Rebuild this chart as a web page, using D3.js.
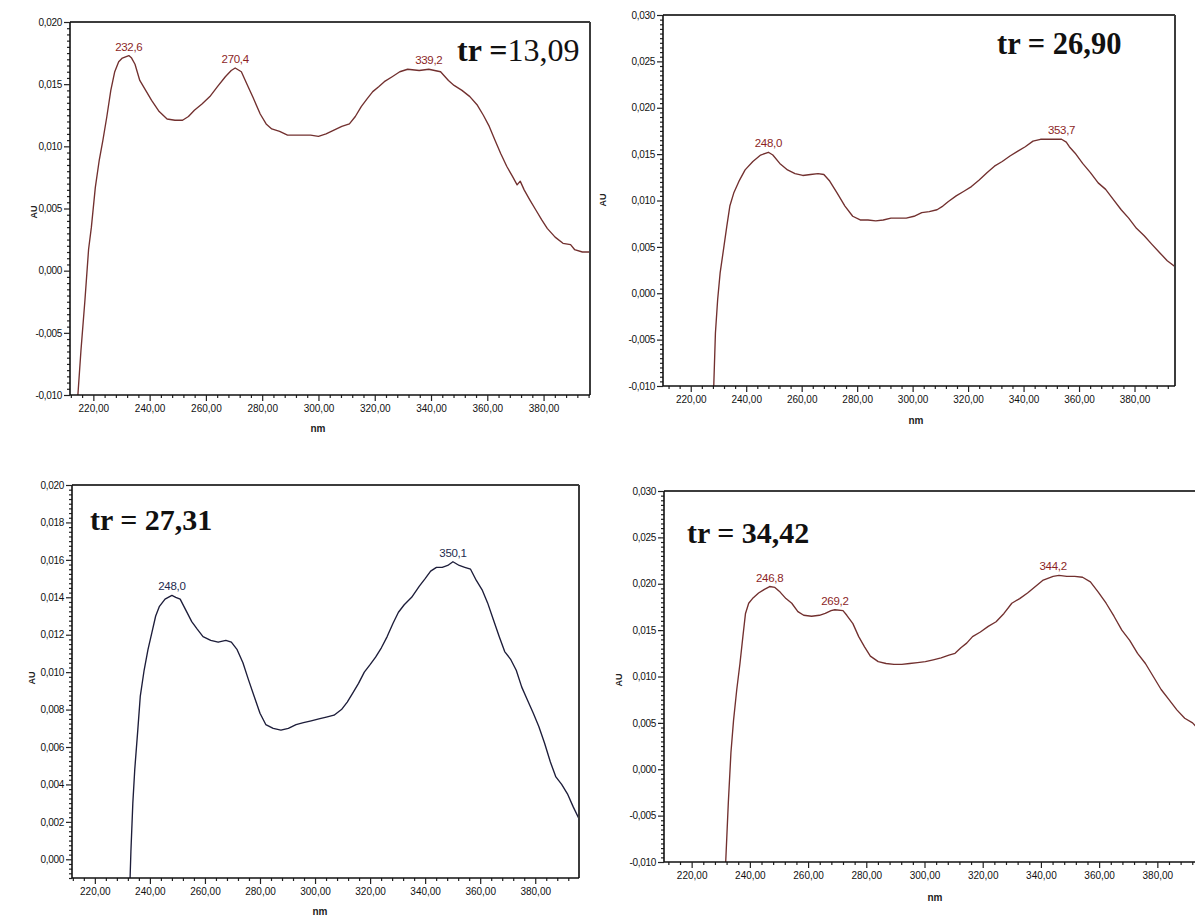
<!DOCTYPE html>
<html>
<head>
<meta charset="utf-8">
<script src="https://cdn.jsdelivr.net/npm/d3@7"></script>
<style>
  html, body { margin: 0; padding: 0; background: #fff; }
  svg { display: block; }
</style>
</head>
<body>
<svg id="chart" width="1195" height="917"></svg>
<script>
// ---- PDA UV spectra (wavelength in nm, absorbance in AU) ----

// tr = 13,09
const wl1 = [214.5,215.6,217.0,218.3,219.3,220.7,222.1,223.4,224.8,226.2,227.6,229.0,230.3,232.6,233.6,234.8,236.5,238.6,240.7,243.4,246.2,249.0,251.7,253.8,255.9,258.6,261.4,264.1,266.9,269.0,270.4,272.6,274.6,276.8,279.3,281.4,283.4,286.2,289.0,293.1,297.2,300.0,302.7,305.5,308.3,311.0,313.1,315.2,317.2,319.3,321.4,323.4,326.2,328.9,331.7,335.8,339.2,343.4,346.2,348.2,351.0,353.8,356.5,358.6,360.7,362.7,364.8,366.9,368.9,370.6,371.7,373.1,375.1,377.2,379.3,381.3,384.1,386.9,389.6,391.0,393.8,396.5];
const au1 = [-0.0100,-0.0064,-0.0024,0.0017,0.0035,0.0067,0.0089,0.0105,0.0124,0.0145,0.0160,0.0168,0.0171,0.0173,0.0171,0.0166,0.0153,0.0145,0.0137,0.0128,0.0122,0.0121,0.0121,0.0124,0.0129,0.0134,0.0140,0.0148,0.0156,0.0161,0.0163,0.0160,0.0150,0.0139,0.0126,0.0118,0.0114,0.0112,0.0109,0.0109,0.0109,0.0108,0.0110,0.0113,0.0116,0.0118,0.0124,0.0132,0.0138,0.0144,0.0148,0.0152,0.0156,0.0160,0.0162,0.0161,0.0162,0.0160,0.0153,0.0149,0.0145,0.0140,0.0133,0.0125,0.0116,0.0105,0.0094,0.0084,0.0076,0.0069,0.0072,0.0065,0.0057,0.0049,0.0041,0.0034,0.0027,0.0022,0.0021,0.0017,0.0015,0.0015];
const peaks1 = [232.6, 270.4, 339.2];

// tr = 26,90
const wl2 = [228.3,228.9,229.7,230.6,232.0,233.0,234.1,235.5,237.6,239.6,242.4,245.2,248.0,249.6,252.1,254.9,257.6,260.4,263.2,265.9,268.0,270.1,272.8,275.6,278.4,281.1,283.9,286.7,289.4,292.2,295.0,297.7,300.5,303.3,306.0,308.8,310.9,312.9,315.7,318.5,321.2,324.0,326.8,329.5,332.3,335.1,337.8,340.6,343.4,346.1,348.9,353.7,355.4,356.5,358.6,361.3,364.1,366.9,369.6,372.4,375.2,377.9,380.7,383.5,386.2,389.0,391.8,394.5];
const au2 = [-0.0100,-0.0043,-0.0007,0.0022,0.0051,0.0072,0.0094,0.0108,0.0122,0.0133,0.0142,0.0149,0.0152,0.0149,0.0140,0.0133,0.0129,0.0127,0.0128,0.0129,0.0128,0.0121,0.0108,0.0094,0.0083,0.0079,0.0079,0.0078,0.0079,0.0081,0.0081,0.0081,0.0083,0.0087,0.0088,0.0090,0.0094,0.0099,0.0105,0.0110,0.0115,0.0122,0.0130,0.0137,0.0142,0.0148,0.0153,0.0158,0.0164,0.0166,0.0166,0.0166,0.0163,0.0158,0.0151,0.0140,0.0130,0.0119,0.0112,0.0101,0.0090,0.0081,0.0070,0.0062,0.0053,0.0044,0.0035,0.0029];
const peaks2 = [248.0, 353.7];

// tr = 27,31
const wl3 = [232.8,233.1,233.8,234.5,235.6,236.5,237.9,239.3,240.7,242.1,243.4,245.5,248.0,249.4,251.0,253.1,255.2,257.2,259.3,262.1,264.8,267.6,269.6,271.7,273.8,275.8,277.9,280.0,282.1,284.8,287.6,290.3,293.1,295.8,298.6,301.4,304.1,306.9,309.6,311.7,313.8,315.8,317.9,320.0,322.0,324.1,326.2,328.3,330.3,332.4,335.1,337.9,340.0,342.0,344.1,346.2,348.2,350.1,352.4,354.4,356.5,358.6,360.7,362.7,364.8,366.9,368.9,371.0,373.1,375.1,377.2,379.3,381.3,383.4,385.5,387.5,389.6,391.7,393.8,395.8];
const au3 = [-0.0010,0.0004,0.0030,0.0048,0.0069,0.0087,0.0101,0.0112,0.0121,0.0130,0.0135,0.0139,0.0141,0.0140,0.0139,0.0133,0.0127,0.0123,0.0119,0.0117,0.0116,0.0117,0.0116,0.0112,0.0105,0.0096,0.0087,0.0078,0.0072,0.0070,0.0069,0.0070,0.0072,0.0073,0.0074,0.0075,0.0076,0.0077,0.0080,0.0084,0.0089,0.0094,0.0100,0.0104,0.0108,0.0113,0.0119,0.0126,0.0132,0.0136,0.0140,0.0146,0.0150,0.0154,0.0156,0.0156,0.0157,0.0159,0.0157,0.0156,0.0155,0.0149,0.0144,0.0137,0.0128,0.0119,0.0111,0.0107,0.0101,0.0092,0.0085,0.0078,0.0071,0.0062,0.0052,0.0044,0.0040,0.0035,0.0028,0.0022];
const peaks3 = [248.0, 350.1];

// tr = 34,42
const wl4 = [231.7,232.6,233.5,234.4,235.5,236.6,237.6,238.5,239.6,240.9,243.0,245.0,246.8,248.6,250.4,252.4,254.4,256.5,258.5,261.2,263.9,265.9,267.9,269.2,272.0,273.3,275.4,277.4,279.4,281.4,284.1,286.8,289.5,292.2,294.9,297.6,300.3,303.0,305.7,308.4,310.5,312.5,314.5,316.5,319.2,321.9,324.6,327.3,330.0,332.7,335.4,338.1,340.8,344.2,346.2,348.9,351.6,354.3,357.0,359.7,362.4,365.1,367.8,370.5,373.2,375.9,378.6,381.3,384.0,386.7,389.4,392.1,395.0];
const au4 = [-0.0100,-0.0036,0.0018,0.0053,0.0086,0.0114,0.0143,0.0168,0.0179,0.0184,0.0190,0.0194,0.0197,0.0196,0.0191,0.0184,0.0179,0.0170,0.0166,0.0165,0.0166,0.0168,0.0171,0.0172,0.0171,0.0166,0.0157,0.0143,0.0132,0.0122,0.0116,0.0114,0.0113,0.0113,0.0114,0.0115,0.0116,0.0118,0.0120,0.0123,0.0125,0.0131,0.0136,0.0143,0.0148,0.0154,0.0159,0.0168,0.0179,0.0184,0.0190,0.0197,0.0204,0.0208,0.0209,0.0208,0.0208,0.0207,0.0202,0.0191,0.0179,0.0165,0.0150,0.0139,0.0125,0.0114,0.0100,0.0086,0.0075,0.0064,0.0055,0.0050,0.0040];
const peaks4 = [246.8, 269.2, 344.2];

// retention-time captions
const captions = ["13,09", "26,90", "27,31", "34,42"];

// axis tick values
const xTickValues = [220, 240, 260, 280, 300, 320, 340, 360, 380];
const yTicks1 = [-0.010, -0.005, 0.000, 0.005, 0.010, 0.015, 0.020];
const yTicks2 = [-0.010, -0.005, 0.000, 0.005, 0.010, 0.015, 0.020, 0.025, 0.030];
const yTicks3 = [0.000, 0.002, 0.004, 0.006, 0.008, 0.010, 0.012, 0.014, 0.016, 0.018, 0.020];
const yTicks4 = [-0.010, -0.005, 0.000, 0.005, 0.010, 0.015, 0.020, 0.025, 0.030];

// ---- drawing ----
const loc = d3.formatLocale({ decimal: ",", thousands: ".", grouping: [3], currency: ["", ""], minus: "-" });
const fmtY = loc.format(".3f");
const fmtX = loc.format(".2f");
const fmtPeak = loc.format(".1f");

const svg = d3.select("#chart");
const sans = "'Liberation Sans', Arial, sans-serif";

const panels = [
  { wl: wl1, vals: au1, peaks: peaks1, yTicks: yTicks1, yMinorStep: 0.0005,
    box: { l: 70, t: 22, r: 590, b: 395 }, xDom: [211.7, 396.5], yDom: [-0.010, 0.020],
    line: "#72302f", lab: "#8c1f1f",
    cap: { x: 457, y: 61, lead: "tr =", num: captions[0], numWeight: "normal", size: 32 },
    auPos: { x: 37, y: 212 }, nmPos: { x: 318, y: 432 } },
  { wl: wl2, vals: au2, peaks: peaks2, yTicks: yTicks2, yMinorStep: 0.0005,
    box: { l: 663, t: 15, r: 1175, b: 386 }, xDom: [210, 394.6], yDom: [-0.010, 0.030],
    line: "#72302f", lab: "#8c1f1f",
    cap: { x: 997, y: 54, lead: "tr = ", num: captions[1], numWeight: "bold", size: 30.5 },
    auPos: { x: 606, y: 200 }, nmPos: { x: 916, y: 424 } },
  { wl: wl3, vals: au3, peaks: peaks3, yTicks: yTicks3, yMinorStep: 0.00025,
    box: { l: 72, t: 485, r: 579, b: 878 }, xDom: [211.7, 395.9], yDom: [-0.001, 0.020],
    line: "#1d1d3a", lab: "#1d2a4e",
    cap: { x: 90, y: 530, lead: "tr = ", num: captions[2], numWeight: "bold", size: 30 },
    auPos: { x: 35, y: 678 }, nmPos: { x: 320, y: 915 } },
  { wl: wl4, vals: au4, peaks: peaks4, yTicks: yTicks4, yMinorStep: 0.0005,
    box: { l: 664, t: 491, r: 1201, b: 862 }, xDom: [210.5, 395], yDom: [-0.010, 0.030],
    line: "#72302f", lab: "#8c1f1f",
    cap: { x: 687, y: 543, lead: "tr = ", num: captions[3], numWeight: "bold", size: 30 },
    auPos: { x: 622, y: 680 }, nmPos: { x: 935, y: 901 } }
];

panels.forEach((p, i) => {
  const { l, t, r, b } = p.box;
  const x = d3.scaleLinear().domain(p.xDom).range([l, r]);
  const y = d3.scaleLinear().domain(p.yDom).range([b, t]);
  const g = svg.append("g").attr("class", "panel-" + (i + 1));

  // clip so the spectrum stays inside the frame
  const clipId = "clip" + i;
  g.append("clipPath").attr("id", clipId)
    .append("rect").attr("x", l).attr("y", t - 2).attr("width", r - l).attr("height", b - t + 2);

  // spectrum trace
  const pts = p.wl.map((w, k) => [w, p.vals[k]]);
  g.append("path")
    .datum(pts)
    .attr("clip-path", `url(#${clipId})`)
    .attr("fill", "none")
    .attr("stroke", p.line)
    .attr("stroke-width", 1.35)
    .attr("stroke-linejoin", "round")
    .attr("d", d3.line().x(d => x(d[0])).y(d => y(d[1])));

  // frame: top and right borders
  g.append("line").attr("x1", l).attr("x2", r).attr("y1", t).attr("y2", t)
    .attr("stroke", "#3c3c3c").attr("stroke-width", 2);
  g.append("line").attr("x1", r).attr("x2", r).attr("y1", t).attr("y2", b)
    .attr("stroke", "#3c3c3c").attr("stroke-width", 2);

  // x axis: labelled majors, unlabelled minors every 4 nm
  const xMinor = d3.range(212, p.xDom[1], 4).filter(v => !xTickValues.includes(v));
  const xMinorAxis = d3.axisBottom(x).tickValues(xMinor).tickSize(3).tickFormat("");
  g.append("g").attr("transform", `translate(0,${b})`).call(xMinorAxis)
    .call(s => s.select(".domain").remove())
    .call(s => s.selectAll("line").attr("stroke", "#222").attr("stroke-width", 1.2));
  const xAxis = d3.axisBottom(x).tickValues(xTickValues).tickSize(6).tickPadding(4).tickFormat(fmtX);
  g.append("g").attr("transform", `translate(0,${b})`).call(xAxis)
    .call(s => s.select(".domain").attr("d", `M${l},0H${r}`).attr("stroke", "#111").attr("stroke-width", 1.6))
    .call(s => s.selectAll("line").attr("stroke", "#222").attr("stroke-width", 1.2))
    .call(s => s.selectAll("text").attr("fill", "#111")
      .style("font-family", sans).style("font-size", "10px"));

  // y axis: dense ruler of minor ticks plus labelled majors
  const yMinor = d3.range(p.yDom[0], p.yDom[1] + 1e-9, p.yMinorStep)
    .map(v => +v.toFixed(5))
    .filter(v => !p.yTicks.some(tv => Math.abs(tv - v) < 1e-7));
  const yMinorAxis = d3.axisLeft(y).tickValues(yMinor).tickSize(3).tickFormat("");
  g.append("g").attr("transform", `translate(${l},0)`).call(yMinorAxis)
    .call(s => s.select(".domain").remove())
    .call(s => s.selectAll("line").attr("stroke", "#222").attr("stroke-width", 1.2));
  const yAxis = d3.axisLeft(y).tickValues(p.yTicks).tickSize(6).tickPadding(2).tickFormat(fmtY);
  g.append("g").attr("transform", `translate(${l},0)`).call(yAxis)
    .call(s => s.select(".domain").attr("d", `M0,${t}V${b}`).attr("stroke", "#111").attr("stroke-width", 1.6))
    .call(s => s.selectAll("line").attr("stroke", "#222").attr("stroke-width", 1.2))
    .call(s => s.selectAll("text").attr("fill", "#111")
      .style("font-family", sans).style("font-size", "10px")
      .style("letter-spacing", "-0.3px"));

  // axis titles
  g.append("text").attr("x", p.nmPos.x).attr("y", p.nmPos.y).attr("text-anchor", "middle")
    .attr("fill", "#222").style("font-family", sans)
    .style("font-size", "10px").style("font-weight", "bold").text("nm");
  g.append("text").attr("transform", `translate(${p.auPos.x},${p.auPos.y}) rotate(-90)`)
    .attr("text-anchor", "middle").attr("fill", "#222")
    .style("font-family", sans)
    .style("font-size", "9px").style("font-weight", "bold").text("AU");

  // peak wavelength labels, placed above the local maximum of the trace
  p.peaks.forEach(pk => {
    const near = pts.filter(d => Math.abs(d[0] - pk) <= 2.5);
    const top = d3.max(near, d => d[1]);
    g.append("text")
      .attr("x", x(pk)).attr("y", y(top) - 5)
      .attr("text-anchor", "middle").attr("fill", p.lab)
      .style("font-family", sans)
      .style("font-size", "11.5px").style("letter-spacing", "-0.3px")
      .text(fmtPeak(pk));
  });

  // retention time caption
  const cap = g.append("text").attr("x", p.cap.x).attr("y", p.cap.y)
    .attr("fill", "#111")
    .style("font-family", "'Liberation Serif', 'Times New Roman', serif")
    .style("font-size", p.cap.size + "px");
  cap.append("tspan").style("font-weight", "bold").text(p.cap.lead);
  cap.append("tspan").style("font-weight", p.cap.numWeight).text(p.cap.num);
});
</script>
</body>
</html>
